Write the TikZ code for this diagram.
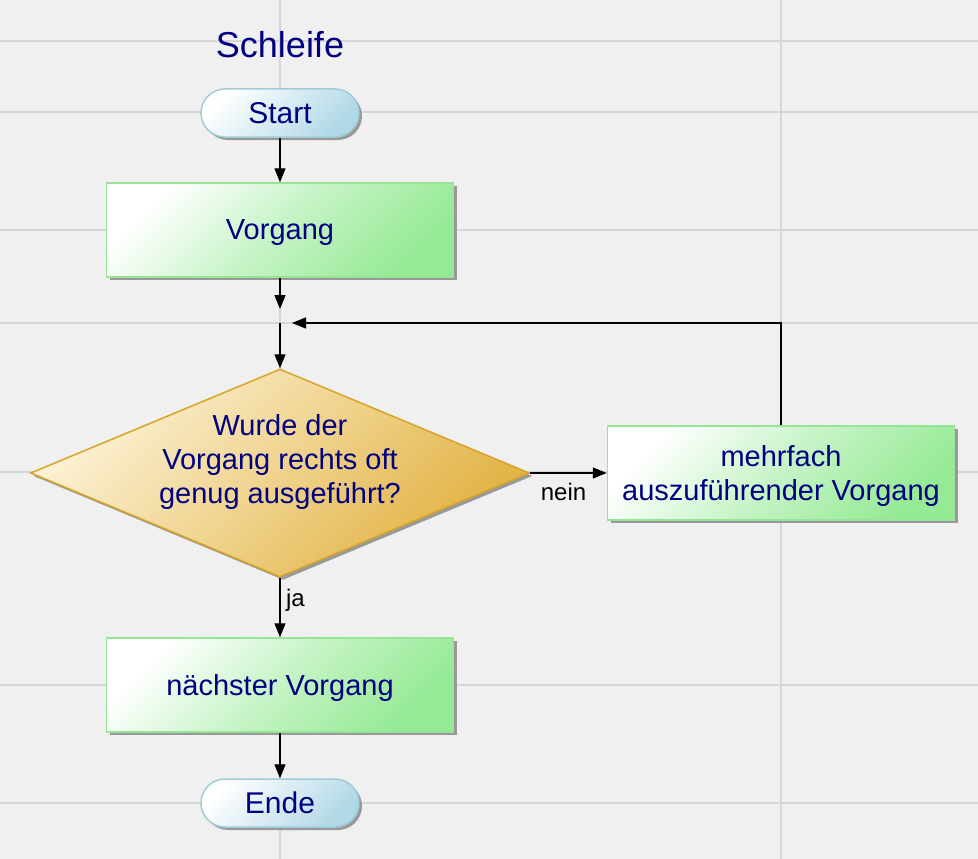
\documentclass[tikz,border=0pt]{standalone}
\usepackage{fontspec}
\setmainfont{Liberation Sans}
\usepackage{xcolor}
\usepackage{tikz}
\usetikzlibrary{shapes.geometric,arrows.meta,shadows}
\definecolor{bgcol}{RGB}{240,240,240}
\definecolor{gridcol}{RGB}{214,214,214}
\definecolor{txtcol}{RGB}{0,0,128}
\definecolor{grnfill}{RGB}{150,234,150}
\definecolor{grnline}{RGB}{150,228,150}
\definecolor{blufill}{RGB}{176,216,230}
\definecolor{bluline}{RGB}{160,204,218}
\definecolor{goldfill}{RGB}{226,178,66}
\definecolor{goldlight}{RGB}{252,242,214}
\definecolor{goldline}{RGB}{216,164,40}

\begin{document}
\begin{tikzpicture}[x=1pt, y=-1pt,
	gridline/.style={draw=gridcol, line width=1.2pt},
	txt/.style={text=txtcol, font=\fontsize{29}{34}\selectfont, align=center, text depth=0pt},
	schatten/.style={drop shadow={shadow xshift=3pt, shadow yshift=-3pt, fill=black!40, opacity=1}},
	terminal/.style={txt, font=\fontsize{30}{34}\selectfont, rectangle, rounded corners=24pt, minimum width=158pt, minimum height=48pt, draw=bluline, line width=1.5pt, top color=white, bottom color=blufill, shading angle=45, schatten},
	vorgang/.style={txt, rectangle, minimum width=347pt, minimum height=94pt, inner sep=0pt, draw=grnline, line width=1.5pt, top color=white, bottom color=grnfill, middle color=white!45!grnfill, shading angle=45, schatten},
	entscheid/.style={diamond, minimum width=499pt, minimum height=208pt, inner sep=0pt, draw=goldline, line width=1.5pt, top color=goldlight, bottom color=goldfill, shading angle=45, schatten},
	lbl/.style={text=black, font=\fontsize{24}{28}\selectfont},
	arr/.style={draw=black, line width=1.4pt, -{Triangle[length=14pt, width=11pt]}}]
	\fill[bgcol] (0,0) rectangle (978,859);
	\useasboundingbox (0,0) rectangle (978,859);
	\foreach \gy in {41,112,230,323,472,685,803} \draw[gridline] (0,\gy) -- (978,\gy);
	\foreach \gx in {280,781} \draw[gridline] (\gx,0) -- (\gx,859);

	\node[txt, font=\fontsize{36}{40}\selectfont] (titel) at (280,44) {Schleife};
	\node[terminal] (start) at (280,113) {Start};
	\node[vorgang] (vorg) at (280,230) {Vorgang};
	\coordinate (join) at (280,323);
	\node[entscheid] (frage) at (280,473) {};
	\node[txt] (fragetext) at (280,459) {Wurde der\\Vorgang rechts oft\\genug ausgeführt?};
	\node[vorgang] (wdh) at (781,473) {mehrfach\\auszuführender Vorgang};
	\node[vorgang] (naechst) at (280,685) {nächster Vorgang};
	\node[terminal] (ende) at (280,803) {Ende};

	\draw[arr] (start) -- (vorg);
	\draw[arr, shorten >=14pt] (vorg) -- (join);
	\draw[arr] (join) -- (frage);
	\draw[arr] (frage) -- node[lbl, below=6pt, xshift=-5pt] (nein) {nein} (wdh);
	\draw[arr, shorten >=12pt] (wdh) |- (join);
	\draw[arr] (frage) -- node[lbl, right=2pt, pos=0.38] (ja) {ja} (naechst);
	\draw[arr] (naechst) -- (ende);
\end{tikzpicture}
\end{document}
